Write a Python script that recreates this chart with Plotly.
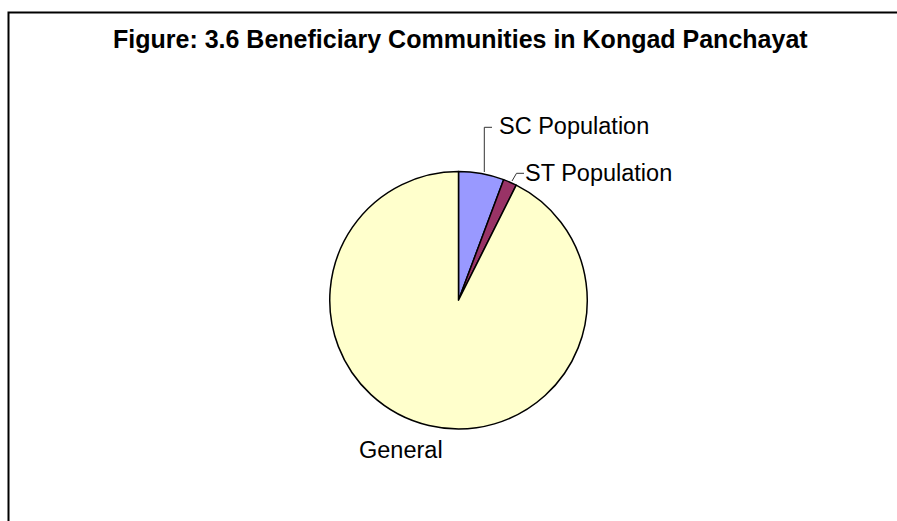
import plotly.graph_objects as go

W, H = 897, 521

# data (share of beneficiaries, %)
communities = ["SC Population", "ST Population", "General"]
shares = [5.7, 1.7, 92.6]
slice_colors = ["#9999FF", "#993366", "#FFFFCC"]


def px(x):
    return x / W


def py(y):
    return 1 - y / H


fig = go.Figure(
    go.Pie(
        labels=communities,
        values=shares,
        sort=False,
        direction="clockwise",
        rotation=0,
        textinfo="none",
        hoverinfo="label+percent",
        marker=dict(colors=slice_colors, line=dict(color="black", width=1.5)),
        domain=dict(x=[px(329.5), px(587.5)], y=[py(429), py(171.5)]),
        showlegend=False,
    )
)

# outside labels with Excel-style leader lines
label_pos = {
    "SC Population": (497, 126),
    "ST Population": (523, 173),
    "General": (357, 450),
}
annotations = [
    dict(text=name, x=px(x), y=py(y), xref="paper", yref="paper",
         xanchor="left", yanchor="middle", showarrow=False,
         font=dict(family="Arial, Liberation Sans, sans-serif", size=23.5, color="black"))
    for name, (x, y) in label_pos.items()
]
annotations.append(dict(
    text="<b>Figure: 3.6 Beneficiary Communities in Kongad Panchayat</b>",
    x=px(460.5), y=py(39), xref="paper", yref="paper",
    xanchor="center", yanchor="middle", showarrow=False,
    font=dict(family="Arial, Liberation Sans, sans-serif", size=25, color="black"),
))

leaders = [
    [(484.3, 172), (484.3, 127.3), (492, 127.3)],
    [(512, 181), (516.5, 173.3), (524, 173.3)],
]
shapes = []
for pts in leaders:
    path = "M " + " L ".join(f"{px(x)},{py(y)}" for x, y in pts)
    shapes.append(dict(type="path", path=path, xref="paper", yref="paper",
                       line=dict(color="#333333", width=1)))

# chart-area frame (runs off the right and bottom of the crop)
shapes.append(dict(type="rect", xref="paper", yref="paper",
                   x0=px(8.5), x1=px(905), y0=py(535), y1=py(12.5),
                   line=dict(color="black", width=2)))

fig.update_layout(
    width=W, height=H,
    margin=dict(l=0, r=0, t=0, b=0),
    paper_bgcolor="white",
    plot_bgcolor="white",
    annotations=annotations,
    shapes=shapes,
)

# drop the browser's default body margin so the figure sits at the page origin
fig.write_html(
    "out.html",
    config={"displayModeBar": False},
    post_script="document.body.style.margin='0';",
)
